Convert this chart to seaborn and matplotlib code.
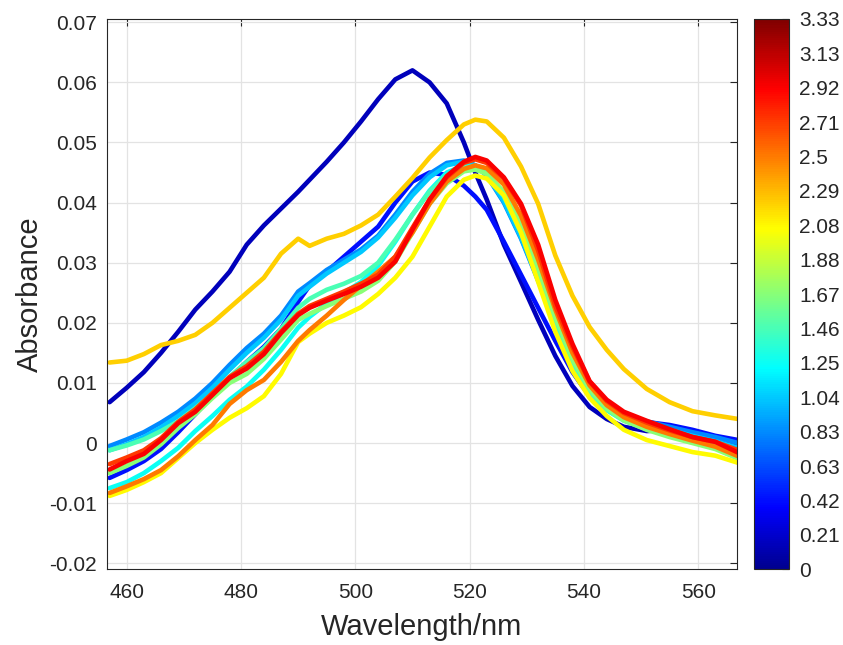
import numpy as np
import pandas as pd
import matplotlib
matplotlib.use("Agg")
import matplotlib.pyplot as plt
import seaborn as sns
from matplotlib.colors import LinearSegmentedColormap, Normalize
from matplotlib.cm import ScalarMappable

# ---------------- data ----------------
wavelength = [457, 460, 463, 466, 469, 472, 475, 478, 481, 484, 487, 490, 492, 495, 498,
              501, 504, 507, 510, 513, 516, 519, 521, 523, 526, 529, 532, 535, 538, 541,
              544, 547, 551, 555, 559, 563, 567]

series_values = [0.15, 0.42, 0.83, 1.04, 1.25, 1.46, 1.67, 2.08, 2.22, 2.5, 2.71, 2.92]

s_000 = [0.0068, 0.0092, 0.0118, 0.0150, 0.0185, 0.0222, 0.0252, 0.0285, 0.0330, 0.0362, 0.0390, 0.0418, 0.0438, 0.0468, 0.0500,
         0.0535, 0.0572, 0.0605, 0.0620, 0.0600, 0.0565, 0.0500, 0.0450, 0.0405, 0.0330, 0.0268, 0.0205, 0.0145, 0.0095, 0.0060,
         0.0040, 0.0027, 0.0020, 0.0022, 0.0018, 0.0010, -0.0002]
s_042 = [-0.0058, -0.0045, -0.0030, -0.0010, 0.0018, 0.0048, 0.0078, 0.0108, 0.0135, 0.0160, 0.0190, 0.0235, 0.0262, 0.0285, 0.0310,
         0.0335, 0.0360, 0.0400, 0.0435, 0.0450, 0.0446, 0.0428, 0.0410, 0.0388, 0.0335, 0.0280, 0.0225, 0.0170, 0.0118, 0.0078,
         0.0055, 0.0042, 0.0035, 0.0030, 0.0022, 0.0012, 0.0005]
s_083 = [-0.0005, 0.0006, 0.0018, 0.0034, 0.0052, 0.0074, 0.0100, 0.0130, 0.0158, 0.0182, 0.0212, 0.0252, 0.0266, 0.0288, 0.0305,
         0.0322, 0.0345, 0.0380, 0.0418, 0.0448, 0.0466, 0.0470, 0.0462, 0.0445, 0.0400, 0.0340, 0.0270, 0.0200, 0.0140, 0.0095,
         0.0065, 0.0048, 0.0036, 0.0027, 0.0018, 0.0010, 0.0000]
s_104 = [-0.0012, -0.0002, 0.0010, 0.0026, 0.0045, 0.0066, 0.0092, 0.0122, 0.0150, 0.0175, 0.0205, 0.0245, 0.0260, 0.0282, 0.0300,
         0.0318, 0.0342, 0.0375, 0.0412, 0.0442, 0.0462, 0.0468, 0.0462, 0.0446, 0.0402, 0.0342, 0.0272, 0.0200, 0.0138, 0.0092,
         0.0062, 0.0045, 0.0032, 0.0022, 0.0012, 0.0003, -0.0008]
s_125 = [-0.0075, -0.0065, -0.0050, -0.0030, -0.0008, 0.0020, 0.0045, 0.0072, 0.0094, 0.0122, 0.0155, 0.0192, 0.0210, 0.0232, 0.0250,
         0.0268, 0.0295, 0.0335, 0.0380, 0.0420, 0.0450, 0.0462, 0.0460, 0.0448, 0.0410, 0.0350, 0.0275, 0.0195, 0.0130, 0.0085,
         0.0055, 0.0038, 0.0024, 0.0014, 0.0004, -0.0006, -0.0020]
s_146 = [-0.0012, -0.0004, 0.0006, 0.0020, 0.0036, 0.0058, 0.0082, 0.0110, 0.0135, 0.0158, 0.0190, 0.0225, 0.0240, 0.0255, 0.0265,
         0.0278, 0.0300, 0.0338, 0.0380, 0.0418, 0.0445, 0.0458, 0.0458, 0.0448, 0.0412, 0.0352, 0.0278, 0.0198, 0.0132, 0.0086,
         0.0055, 0.0037, 0.0023, 0.0012, 0.0002, -0.0008, -0.0024]
s_167 = [-0.0050, -0.0038, -0.0024, -0.0002, 0.0025, 0.0048, 0.0075, 0.0100, 0.0115, 0.0140, 0.0172, 0.0205, 0.0215, 0.0228, 0.0240,
         0.0252, 0.0270, 0.0302, 0.0350, 0.0398, 0.0432, 0.0452, 0.0455, 0.0448, 0.0418, 0.0365, 0.0292, 0.0210, 0.0140, 0.0090,
         0.0058, 0.0038, 0.0022, 0.0010, 0.0000, -0.0010, -0.0026]
s_208 = [-0.0088, -0.0078, -0.0065, -0.0050, -0.0025, 0.0000, 0.0022, 0.0042, 0.0058, 0.0078, 0.0115, 0.0168, 0.0182, 0.0200, 0.0212,
         0.0226, 0.0248, 0.0275, 0.0310, 0.0360, 0.0410, 0.0438, 0.0445, 0.0440, 0.0412, 0.0350, 0.0268, 0.0185, 0.0120, 0.0075,
         0.0045, 0.0022, 0.0005, -0.0005, -0.0015, -0.0021, -0.0033]
s_229 = [0.0134, 0.0137, 0.0148, 0.0163, 0.0170, 0.0180, 0.0200, 0.0225, 0.0250, 0.0275, 0.0315, 0.0340, 0.0328, 0.0340, 0.0348,
         0.0362, 0.0380, 0.0410, 0.0441, 0.0475, 0.0504, 0.0530, 0.0538, 0.0535, 0.0508, 0.0460, 0.0398, 0.0312, 0.0245, 0.0193,
         0.0155, 0.0123, 0.0090, 0.0068, 0.0053, 0.0046, 0.0040]
s_250 = [-0.0083, -0.0072, -0.0060, -0.0045, -0.0022, 0.0005, 0.0030, 0.0065, 0.0088, 0.0105, 0.0135, 0.0170, 0.0188, 0.0212, 0.0238,
         0.0262, 0.0285, 0.0310, 0.0350, 0.0398, 0.0435, 0.0456, 0.0462, 0.0457, 0.0430, 0.0378, 0.0305, 0.0222, 0.0150, 0.0096,
         0.0063, 0.0043, 0.0027, 0.0015, 0.0004, -0.0006, -0.0022]
s_271 = [-0.0035, -0.0024, -0.0012, 0.0008, 0.0035, 0.0056, 0.0083, 0.0110, 0.0128, 0.0152, 0.0185, 0.0215, 0.0228, 0.0240, 0.0252,
         0.0265, 0.0280, 0.0310, 0.0358, 0.0405, 0.0442, 0.0466, 0.0472, 0.0466, 0.0440, 0.0395, 0.0320, 0.0228, 0.0160, 0.0102,
         0.0070, 0.0050, 0.0034, 0.0021, 0.0010, 0.0002, -0.0012]
s_292 = [-0.0044, -0.0030, -0.0018, 0.0005, 0.0033, 0.0052, 0.0080, 0.0108, 0.0124, 0.0148, 0.0183, 0.0213, 0.0225, 0.0237, 0.0248,
         0.0260, 0.0275, 0.0302, 0.0355, 0.0405, 0.0444, 0.0468, 0.0476, 0.0470, 0.0442, 0.0398, 0.0330, 0.0238, 0.0165, 0.0103,
         0.0072, 0.0052, 0.0037, 0.0023, 0.0010, 0.0002, -0.0016]

all_series = [s_000, s_042, s_083, s_104, s_125, s_146, s_167, s_208, s_229, s_250, s_271, s_292]

cbar_max = 3.33
cbar_labels = ["0", "0.21", "0.42", "0.63", "0.83", "1.04", "1.25", "1.46", "1.67",
               "1.88", "2.08", "2.29", "2.5", "2.71", "2.92", "3.13", "3.33"]
x_ticks = [460, 480, 500, 520, 540, 560]
y_ticks = [-0.02, -0.01, 0, 0.01, 0.02, 0.03, 0.04, 0.05, 0.06, 0.07]
y_labels = ["-0.02", "-0.01", "0", "0.01", "0.02", "0.03", "0.04", "0.05", "0.06", "0.07"]

# ---------------- build table ----------------
rows = []
for k, (v, ys) in enumerate(zip(series_values, all_series)):
    for w, a in zip(wavelength, ys):
        rows.append({"wl": w, "abs": a, "value": v, "series": k})
df = pd.DataFrame(rows)

# MATLAB-style jet colormap
mjet = LinearSegmentedColormap.from_list(
    "mjet",
    [(0.0, (0, 0, 0.5625)), (7 / 63, (0, 0, 1)), (23 / 63, (0, 1, 1)),
     (39 / 63, (1, 1, 0)), (55 / 63, (1, 0, 0)), (1.0, (0.5, 0, 0))], N=256)
norm = Normalize(0, cbar_max)

sns.set_style("white")
plt.rcParams["font.family"] = ["Liberation Sans", "DejaVu Sans"]
plt.rcParams["axes.unicode_minus"] = False

fig = plt.figure(figsize=(8.43, 6.45), dpi=100)
ax = fig.add_axes([0.1266, 0.1174, 0.7477, 0.8532])
cax = fig.add_axes([0.8944, 0.1174, 0.0419, 0.8532])

sns.lineplot(data=df, x="wl", y="abs", hue="value", units="series", estimator=None,
             palette=mjet, hue_norm=norm, linewidth=3.3, legend=False, sort=False, ax=ax)

ax.set_xlim(456.5, 566.8)
ax.set_ylim(-0.0210, 0.07055)
ax.set_xticks(x_ticks)
ax.set_yticks(y_ticks)
ax.set_yticklabels(y_labels)
ax.grid(True, color="#e3e3e3", linewidth=0.9)
ax.set_axisbelow(True)
dark = "#262626"
ax.tick_params(direction="in", top=True, right=True, length=5, width=0.8,
               color=dark, labelcolor=dark, labelsize=15)
ax.tick_params(axis="x", pad=10)
ax.tick_params(axis="y", pad=7)
for sp in ax.spines.values():
    sp.set_color(dark)
    sp.set_linewidth(0.8)
    sp.set_visible(True)
ax.set_xlabel("Wavelength/nm", fontsize=21, color=dark, labelpad=8)
ax.set_ylabel("Absorbance", fontsize=21, color=dark, labelpad=4)

sm = ScalarMappable(norm=norm, cmap=mjet)
cb = fig.colorbar(sm, cax=cax)
cb.set_ticks([cbar_max * k / 16 for k in range(17)], labels=cbar_labels)
cb.ax.tick_params(labelsize=15, colors=dark, length=5, width=0.8, direction="in", pad=7)
cb.outline.set_edgecolor(dark)
cb.outline.set_linewidth(0.8)

fig.savefig("out.png", dpi=100)
